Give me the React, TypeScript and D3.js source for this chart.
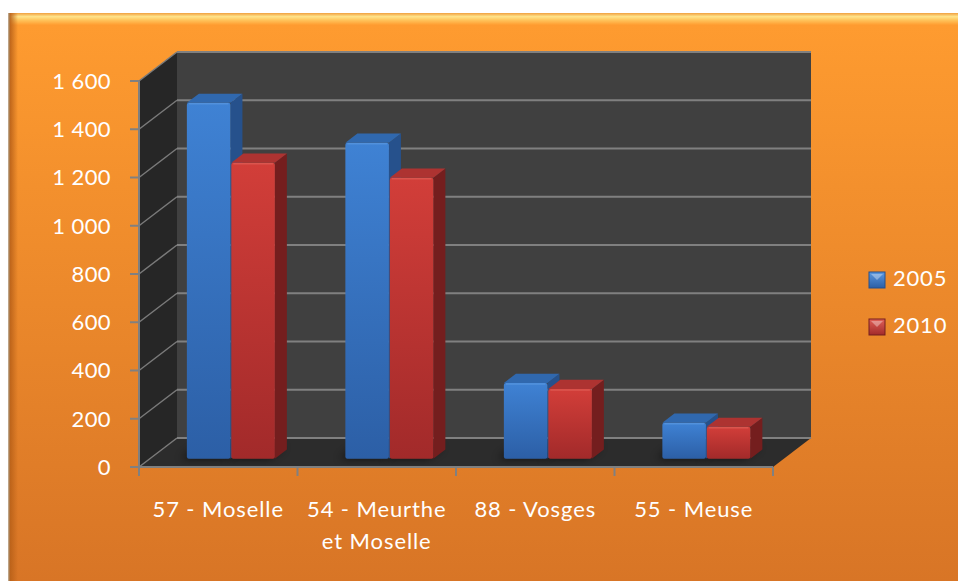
import React, { useEffect, useRef } from 'react';
import * as d3 from 'd3';

// chart data
const categories = ['57 - Moselle', '54 - Meurthe\net Moselle', '88 - Vosges', '55 - Meuse'];
const seriesNames = ['2005', '2010'];
const values2005 = [1475, 1310, 314, 149];
const values2010 = [1227, 1165, 289, 132];
const yTicks = [0, 200, 400, 600, 800, 1000, 1200, 1400, 1600];

const palette = {
  '2005': { top: '#3f82d4', bottom: '#2c5fa6', side: '#26518c', roof: '#3068ae', shine: '#5b98e0' },
  '2010': { top: '#d23e39', bottom: '#a22a2a', side: '#741e1e', roof: '#ad3331', shine: '#e06058' },
};

const App = () => {
  const ref = useRef<SVGSVGElement>(null);

  useEffect(() => {
    const width = 958;
    const height = 581;
    // front plane of the 3D box
    const left = 139;
    const right = 773;
    const top = 81;
    const bottom = 467;
    // depth vector of the box (front -> back)
    const depthX = 38;
    const depthY = -29;

    const svg = d3.select(ref.current)
      .attr('width', width)
      .attr('height', height);
    svg.selectAll('*').remove();

    const defs = svg.append('defs');

    const vgrad = (id: string, stops: [number, string][]) => {
      const g = defs.append('linearGradient').attr('id', id)
        .attr('x1', 0).attr('y1', 0).attr('x2', 0).attr('y2', 1);
      stops.forEach(([o, c]) => g.append('stop').attr('offset', o).attr('stop-color', c));
    };
    vgrad('bg', [[0, '#ff9c30'], [1, '#d87526']]);
    vgrad('topShine', [[0, '#f0a040'], [0.3, '#ffe38a'], [0.55, '#ffc860'], [1, '#ff9c30']]);
    const lg = defs.append('linearGradient').attr('id', 'leftShade')
      .attr('x1', 0).attr('y1', 0).attr('x2', 1).attr('y2', 0);
    lg.append('stop').attr('offset', 0).attr('stop-color', '#b86018');
    lg.append('stop').attr('offset', 1).attr('stop-color', '#b86018').attr('stop-opacity', 0);
    seriesNames.forEach(s => {
      const p = palette[s];
      vgrad(`front${s}`, [[0, p.top], [1, p.bottom]]);
      vgrad(`legend${s}`, [[0, p.shine], [1, p.bottom]]);
    });
    defs.append('filter').attr('id', 'blur')
      .attr('x', '-50%').attr('y', '-50%').attr('width', '200%').attr('height', '200%')
      .append('feGaussianBlur').attr('stdDeviation', 4);

    // background
    svg.append('rect').attr('x', 9).attr('y', 13).attr('width', width - 9).attr('height', height - 13)
      .attr('fill', 'url(#bg)');
    svg.append('rect').attr('x', 9).attr('y', 13).attr('width', width - 9).attr('height', 12)
      .attr('fill', 'url(#topShine)');
    svg.append('rect').attr('x', 9).attr('y', 13).attr('width', 9).attr('height', height - 13)
      .attr('fill', 'url(#leftShade)');
    svg.append('line').attr('x1', 9).attr('x2', 9).attr('y1', 13).attr('y2', height)
      .attr('stroke', '#a8845c').attr('stroke-width', 1.5);

    // scales
    const y = d3.scaleLinear().domain([0, 1600]).range([bottom, top]);
    const x0 = d3.scaleBand().domain(categories).range([left, right]).padding(0);
    const x1 = d3.scaleBand().domain(seriesNames).range([37, 125]).paddingInner(0.02);
    const pt = (x: number, v: number, d: number): [number, number] =>
      [x + d * depthX, y(v) + d * depthY];
    const poly = (pts: [number, number][]) => pts.map(p => p.join(',')).join(' ');

    const box = svg.append('g');
    // side wall
    box.append('polygon')
      .attr('points', poly([pt(left, 1600, 0), pt(left, 1600, 1), pt(left, 0, 1), pt(left, 0, 0)]))
      .attr('fill', '#262626');
    // back wall
    box.append('polygon')
      .attr('points', poly([pt(left, 1600, 1), pt(right, 1600, 1), pt(right, 0, 1), pt(left, 0, 1)]))
      .attr('fill', '#404040');
    // floor
    box.append('polygon')
      .attr('points', poly([pt(left, 0, 0), pt(right, 0, 0), pt(right, 0, 1), pt(left, 0, 1)]))
      .attr('fill', '#2c2c2c');

    // gridlines
    yTicks.forEach(t => {
      const [bx, by] = pt(left, t, 1);
      const [ex, ey] = pt(right, t, 1);
      box.append('line').attr('x1', bx).attr('y1', by).attr('x2', ex).attr('y2', ey)
        .attr('stroke', '#808080').attr('stroke-width', 2);
      const [fx, fy] = pt(left, t, 0);
      box.append('line').attr('x1', fx).attr('y1', fy).attr('x2', bx).attr('y2', by)
        .attr('stroke', '#7a7a7a').attr('stroke-width', 1.5);
    });

    // bars
    const f0 = 0.286;
    const f1 = 0.602;
    const rows = categories.flatMap((c, i) => [
      { cat: c, s: '2005', v: values2005[i] },
      { cat: c, s: '2010', v: values2010[i] },
    ]);
    const barsG = svg.append('g');
    // floor shadows
    barsG.selectAll('polygon.shadow')
      .data(rows)
      .join('polygon')
      .attr('class', 'shadow')
      .attr('points', d => {
        const xa = x0(d.cat)! + x1(d.s)! - 6;
        const xb = xa + x1.bandwidth();
        return poly([pt(xa, 0, f0), pt(xb, 0, f0), pt(xb, 0, f1 + 0.1), pt(xa, 0, f1 + 0.1)]);
      })
      .attr('fill', '#111')
      .attr('opacity', 0.6)
      .attr('filter', 'url(#blur)');

    const bar = barsG.selectAll('g.bar')
      .data(rows)
      .join('g')
      .attr('class', 'bar');
    bar.each(function (d) {
      const g = d3.select(this);
      const p = palette[d.s];
      const xa = x0(d.cat)! + x1(d.s)!;
      const xb = xa + x1.bandwidth();
      // side
      g.append('polygon')
        .attr('points', poly([pt(xb, d.v, f0), pt(xb, d.v, f1), pt(xb, 0, f1), pt(xb, 0, f0)]))
        .attr('fill', p.side);
      // roof
      g.append('polygon')
        .attr('points', poly([pt(xa, d.v, f0), pt(xa, d.v, f1), pt(xb, d.v, f1), pt(xb, d.v, f0)]))
        .attr('fill', p.roof);
      // front
      const [fx, fy] = pt(xa, d.v, f0);
      const [, fy0] = pt(xa, 0, f0);
      g.append('rect')
        .attr('x', fx).attr('y', fy)
        .attr('width', x1.bandwidth()).attr('height', fy0 - fy)
        .attr('rx', 2)
        .attr('fill', `url(#front${d.s})`);
      g.append('line')
        .attr('x1', fx + 2).attr('x2', fx + x1.bandwidth() - 2)
        .attr('y1', fy + 1).attr('y2', fy + 1)
        .attr('stroke', p.shine).attr('stroke-width', 1.5).attr('opacity', 0.7);
    });

    // axes lines and ticks
    const axis = svg.append('g').attr('stroke', '#808080');
    axis.append('line').attr('x1', left).attr('x2', left).attr('y1', top).attr('y2', bottom + 1)
      .attr('stroke-width', 2);
    axis.append('line').attr('x1', left - 1).attr('x2', right).attr('y1', bottom).attr('y2', bottom)
      .attr('stroke-width', 2);
    yTicks.forEach(t => {
      axis.append('line').attr('x1', left - 9).attr('x2', left).attr('y1', y(t)).attr('y2', y(t))
        .attr('stroke-width', 2);
    });
    [...categories.map(c => x0(c)!), right].forEach(xv => {
      axis.append('line').attr('x1', xv).attr('x2', xv).attr('y1', bottom).attr('y2', bottom + 9)
        .attr('stroke-width', 2);
    });

    // y labels
    const fmt = d3.formatLocale({ decimal: ',', thousands: '\u2009', grouping: [3], currency: ['', ''] }).format(',d');
    const fmtSpace = (v: number) => fmt(v).replace('\u2009', ' ');
    svg.append('g')
      .selectAll('text')
      .data(yTicks)
      .join('text')
      .attr('x', 111)
      .attr('y', d => y(d))
      .attr('dy', '0.36em')
      .attr('text-anchor', 'end')
      .attr('fill', '#fff')
      .attr('font-family', 'Lato, sans-serif')
      .attr('font-size', 22)
      .attr('letter-spacing', 0.4)
      .text(d => fmtSpace(d));

    // category labels
    const catG = svg.append('g')
      .attr('fill', '#fff')
      .attr('font-family', 'Lato, sans-serif')
      .attr('font-size', 22)
      .attr('letter-spacing', 0.9)
      .attr('text-anchor', 'middle');
    categories.forEach(c => {
      const t = catG.append('text')
        .attr('x', x0(c)! + x0.bandwidth() / 2)
        .attr('y', 517);
      c.split('\n').forEach((line, i) => {
        t.append('tspan')
          .attr('x', x0(c)! + x0.bandwidth() / 2)
          .attr('dy', i === 0 ? 0 : 32)
          .text(line);
      });
    });

    // legend
    const legend = svg.append('g')
      .selectAll('g')
      .data(seriesNames)
      .join('g')
      .attr('transform', (d, i) => `translate(869, ${272 + i * 47})`);
    legend.append('rect')
      .attr('width', 16).attr('height', 16)
      .attr('fill', d => `url(#legend${d})`)
      .attr('stroke', d => palette[d].side).attr('stroke-width', 1);
    legend.append('polygon')
      .attr('points', '2,2 14,2 8,8')
      .attr('fill', '#fff')
      .attr('opacity', 0.35);
    legend.append('text')
      .attr('x', 24)
      .attr('y', 14)
      .attr('fill', '#fff')
      .attr('font-family', 'Lato, sans-serif')
      .attr('font-size', 22)
      .attr('letter-spacing', 0.8)
      .text(d => d);
  }, []);

  return <svg ref={ref} style={{ position: 'absolute', left: 0, top: 0 }}></svg>;
};

export default App;
